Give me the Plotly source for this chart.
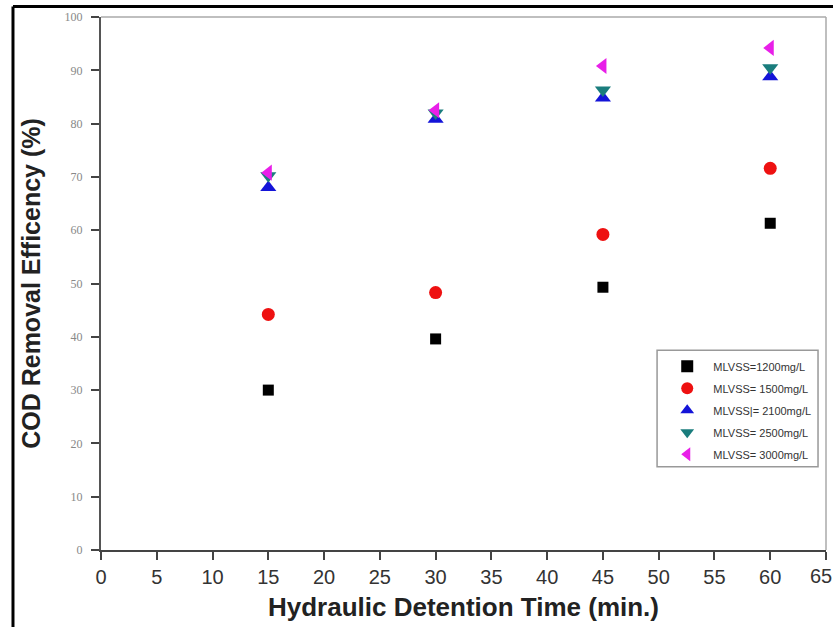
import plotly.graph_objects as go

time_min = [15, 30, 45, 60]
mlvss_1200 = [30.0, 39.6, 49.3, 61.3]
mlvss_1500 = [44.2, 48.3, 59.2, 71.6]
mlvss_2100 = [68.0, 80.8, 84.8, 88.8]
mlvss_2500 = [70.2, 82.0, 86.3, 90.5]
mlvss_3000 = [70.8, 82.5, 90.8, 94.2]

series_names = ["MLVSS=1200mg/L", "MLVSS= 1500mg/L", "MLVSS|= 2100mg/L",
                "MLVSS= 2500mg/L", "MLVSS= 3000mg/L"]
x_ticks = list(range(0, 66, 5))
y_ticks = list(range(0, 101, 10))

fig = go.Figure()
styles = [
    (mlvss_1200, "square", "#000000", 11),
    (mlvss_1500, "circle", "#ee1111", 13),
    (mlvss_2100, "triangle-up", "#1414d8", 14),
    (mlvss_2500, "triangle-down", "#1a7d7d", 14),
    (mlvss_3000, "triangle-left", "#e81fe8", 14),
]
for i, (name, (vals, sym, col, sz)) in enumerate(zip(series_names, styles)):
    fig.add_trace(go.Scatter(
        x=time_min, y=vals, mode="markers", name="  " + name,
        legendgroup="g%d" % i,
        marker=dict(symbol=sym, color=col, size=sz, line=dict(width=0)),
    ))

fig.update_layout(
    width=833, height=627,
    margin=dict(l=101, r=7, t=17, b=77),
    plot_bgcolor="white", paper_bgcolor="white",
    showlegend=True,
    legend=dict(
        x=0.781, y=0.372, xanchor="left", yanchor="top",
        bgcolor="rgba(0,0,0,0)", borderwidth=0,
        font=dict(family="Arial", size=11, color="#333333"),
        itemsizing="constant", tracegroupgap=3,
    ),
    xaxis=dict(
        range=[0, 65], tickvals=x_ticks, ticktext=[str(v) for v in x_ticks],
        showgrid=False, zeroline=False, showline=True, linecolor="#444444", linewidth=2,
        mirror=False, ticks="outside", ticklen=8, tickwidth=2, tickcolor="#444444",
        tickfont=dict(family="Arial", size=20, color="#333333"),
        title=dict(text="<b>Hydraulic Detention Time (min.)</b>",
                   font=dict(family="Arial", size=26, color="#222222"), standoff=11),
    ),
    yaxis=dict(
        range=[0, 100], tickvals=y_ticks, ticktext=[str(v) for v in y_ticks],
        showgrid=False, zeroline=False, showline=True, linecolor="#555555", linewidth=2,
        ticks="outside", ticklen=8, tickwidth=2, tickcolor="#444444",
        ticklabelstandoff=6,
        tickfont=dict(family="Liberation Serif", size=12, color="#888888"),
        title=dict(text="<b>COD Removal Efficency (%)</b>",
                   font=dict(family="Arial", size=25, color="#222222"), standoff=17),
    ),
)

# "65" tick label at the right edge (plotly hides it because it overflows)
fig.add_annotation(x=x_ticks[-1], xref="x", y=-0.025, yref="paper", text=str(x_ticks[-1]),
                   showarrow=False, xanchor="center", yanchor="top", xshift=-5,
                   font=dict(family="Arial", size=20, color="#333333"))

# legend box
fig.add_shape(type="rect", xref="paper", yref="paper", x0=0.767, x1=0.989, y0=0.156, y1=0.375,
              line=dict(color="#999999", width=1.5), fillcolor="rgba(0,0,0,0)", layer="below")
# light frame on top and right of plot area
fig.add_shape(type="line", xref="paper", yref="paper", x0=0, x1=1, y0=1, y1=1,
              line=dict(color="#aaaaaa", width=1.5))
fig.add_shape(type="line", xref="paper", yref="paper", x0=1, x1=1, y0=0, y1=1,
              line=dict(color="#aaaaaa", width=1.5))
# outer black border (left and top)
fig.add_shape(type="line", xref="paper", yref="paper", x0=-0.1214, x1=-0.1214, y0=-0.2, y1=1.0197,
              line=dict(color="#000000", width=3))
fig.add_shape(type="line", xref="paper", yref="paper", x0=-0.1214, x1=1.02, y0=1.0197, y1=1.0197,
              line=dict(color="#000000", width=3))

fig.write_html("out.html")
